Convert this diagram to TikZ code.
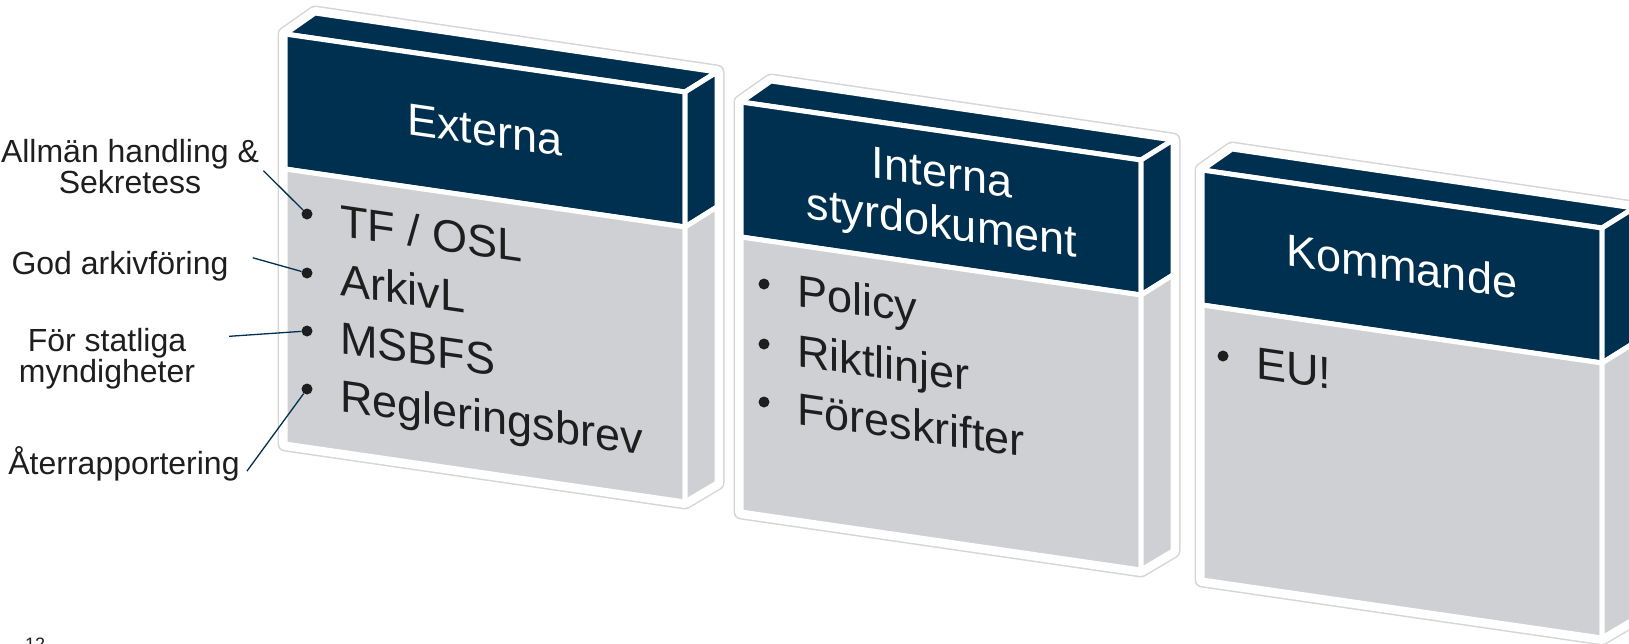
\documentclass[tikz,border=0pt]{standalone}
\usepackage{fontspec}
\setmainfont{Liberation Sans}

\definecolor{marin}{RGB}{0,48,80}
\definecolor{ljusgra}{RGB}{206,208,212}
\definecolor{kant}{RGB}{214,214,214}
\definecolor{texten}{RGB}{30,30,30}

\tikzset{
  halo/.style={draw=kant, line width=15pt, line join=round},
  vitkant/.style={draw=white, line width=12pt, line join=round},
  mork/.style={fill=marin, draw=white, line width=5pt, line join=round},
  ljus/.style={fill=ljusgra, draw=white, line width=5pt, line join=round},
  rubrik/.style={text=white, font=\fontsize{45}{50}\selectfont, align=center, yslant=-0.145, inner sep=0pt},
  punkt/.style={text=texten, font=\fontsize{45}{50}\selectfont, anchor=base west, yslant=-0.145, inner sep=0pt},
  prick/.style={circle, fill=texten, minimum size=11pt, inner sep=0pt},
  anteckning/.style={text=texten, font=\fontsize{32}{31}\selectfont, align=center, inner sep=0pt},
  linje/.style={draw=marin, line width=1.3pt}
}

% en låda: framsida, topp och sida
\newcommand{\lada}{%
  \draw[halo] (0,0) -- (30,-21) -- (432,38) -- (432,449) -- (400,468) -- (0,410) -- cycle;
  \draw[vitkant] (0,0) -- (30,-21) -- (432,38) -- (432,449) -- (400,468) -- (0,410) -- cycle;
  \filldraw[mork] (0,0) -- (30,-21) -- (432,38) -- (400,58) -- cycle;
  \filldraw[mork] (0,0) -- (400,58) -- (400,193) -- (0,135) -- cycle;
  \filldraw[mork] (400,58) -- (432,38) -- (432,173) -- (400,193) -- cycle;
  \filldraw[ljus] (0,135) -- (400,193) -- (400,468) -- (0,410) -- cycle;
  \filldraw[ljus] (400,193) -- (432,173) -- (432,449) -- (400,468) -- cycle;
}

\begin{document}
\begin{tikzpicture}[x=1pt, y=-1pt]
  \useasboundingbox (0,0) rectangle (1629,643);

  % Lådan Externa
  \begin{scope}[shift={(285,34)}]
    \lada
    \node[rubrik] (externa) at (200,96) {Externa};
    \node[prick] (tfp) at (22,180) {};
    \node[punkt] (tf) at (55,202) {TF / OSL};
    \node[prick] (arkp) at (22,239) {};
    \node[punkt] (ark) at (55,261) {ArkivL};
    \node[prick] (msbp) at (22,297) {};
    \node[punkt] (msb) at (55,319) {MSBFS};
    \node[prick] (regp) at (22,355) {};
    \node[punkt] (reg) at (55,377) {Regleringsbrev};
  \end{scope}

  % Lådan Interna styrdokument
  \begin{scope}[shift={(741,102)}]
    \lada
    \node[rubrik] (interna) at (201,100) {Interna\\styrdokument};
    \node[prick] (polp) at (23,182) {};
    \node[punkt] (pol) at (56,204) {Policy};
    \node[prick] (riktp) at (23,242) {};
    \node[punkt] (rikt) at (56,264) {Riktlinjer};
    \node[prick] (forep) at (23,300) {};
    \node[punkt] (fore) at (56,322) {Föreskrifter};
  \end{scope}

  % Lådan Kommande
  \begin{scope}[shift={(1202,170)}]
    \lada
    \node[rubrik] (kommande) at (200,96) {Kommande};
    \node[prick] (eup) at (21,186) {};
    \node[punkt] (eu) at (54,208) {EU!};
  \end{scope}

  % Anteckningar till vänster
  \node[anteckning, anchor=north] (allman) at (130,139) {Allmän handling \&\\Sekretess};
  \node[anteckning, anchor=north] (god) at (120,251) {God arkivföring};
  \node[anteckning, anchor=north] (fors) at (107,328) {För statliga\\myndigheter};
  \node[anteckning, anchor=base] (ater) at (124,474) {Återrapportering};

  \draw[linje, shorten <=6pt] (allman.east) -- (tfp);
  \draw[linje, shorten <=25pt] (god.north east) -- (arkp);
  \draw[linje, shorten <=34pt] ([yshift=20pt]fors.east) -- (msbp);
  \draw[linje, shorten <=12pt] (ater.south east) -- (regp);

  % sidnummer
  \node[text=texten, font=\fontsize{18}{20}\selectfont, anchor=base west, inner sep=0pt] (sidnr) at (25,650) {12};
\end{tikzpicture}
\end{document}
